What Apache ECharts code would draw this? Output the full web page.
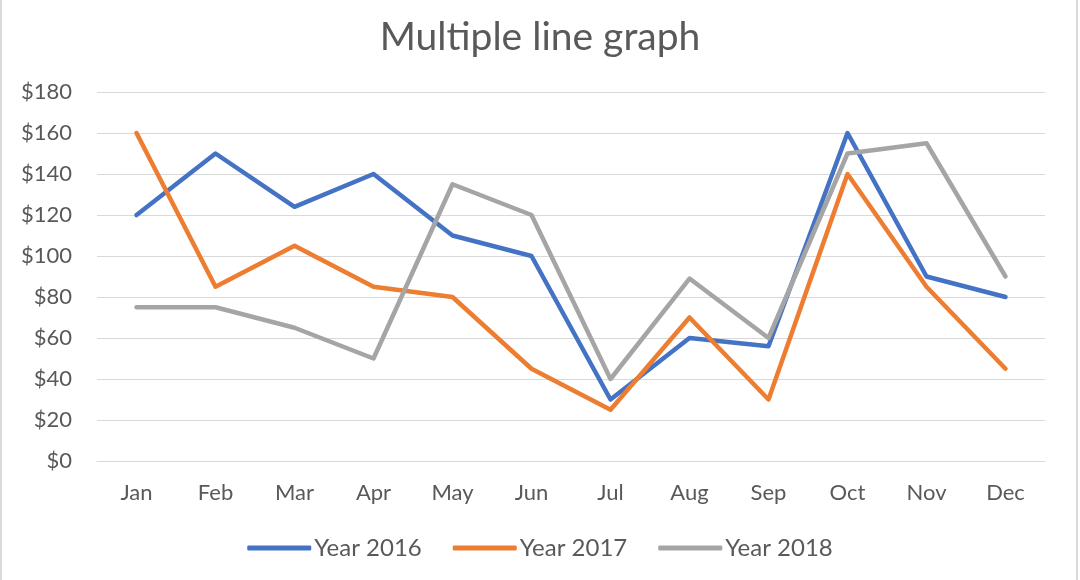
<!DOCTYPE html>
<html>
<head>
<meta charset="utf-8">
<script src="https://cdn.jsdelivr.net/npm/echarts@6/dist/echarts.min.js"></script>
<style>
html,body{margin:0;padding:0;background:#fff;}
#chart{width:1080px;height:580px;}
</style>
</head>
<body>
<div id="chart"></div>
<script>
const months = ['Jan','Feb','Mar','Apr','May','Jun','Jul','Aug','Sep','Oct','Nov','Dec'];
const year2016 = [120,150,124,140,110,100,30,60,56,160,90,80];
const year2017 = [160,85,105,85,80,45,25,70,30,140,85,45];
const year2018 = [75,75,65,50,135,120,40,89,60,150,155,90];
const seriesNames = ['Year 2016','Year 2017','Year 2018'];
const colors = ['#4472C4','#ED7D31','#A5A5A5'];

const font = 'Lato, "Open Sans", sans-serif';
const chart = echarts.init(document.getElementById('chart'), null, {renderer:'canvas'});
const mk = (name, data, c) => ({
  name, type:'line', data, symbol:'none', smooth:false,
  lineStyle:{width:4.5, color:c, cap:'round', join:'round'}, itemStyle:{color:c}
});
chart.setOption({
  animation:false,
  backgroundColor:'#fff',
  title:{text:'Multiple line graph', left:'center', top:13,
    textStyle:{fontFamily:font, fontSize:39, fontWeight:'normal', color:'#595959'}},
  grid:{left:97, right:35, top:92, bottom:119},
  legend:{top:531, left:'center', itemWidth:64, itemHeight:5, itemGap:31,
    icon:'roundRect',
    textStyle:{fontFamily:font, fontSize:24, color:'#595959', padding:[0,0,0,-2]},
    data:seriesNames},
  xAxis:{type:'category', data:months, boundaryGap:true,
    axisLine:{show:true, lineStyle:{color:'#D9D9D9', width:1}},
    axisTick:{show:false},
    axisLabel:{fontFamily:font, fontSize:22, color:'#595959', margin:21}},
  yAxis:{type:'value', min:0, max:180, interval:20,
    axisLine:{show:false}, axisTick:{show:false},
    splitLine:{lineStyle:{color:'#D9D9D9', width:1}},
    axisLabel:{fontFamily:font, fontSize:22, color:'#595959', margin:25,
      formatter:v=>'$'+v}},
  series:[mk(seriesNames[0],year2016,colors[0]), mk(seriesNames[1],year2017,colors[1]), mk(seriesNames[2],year2018,colors[2])],
  graphic:[{type:'rect', shape:{x:1,y:-5,width:1076,height:590}, style:{fill:'none', stroke:'#D9D9D9', lineWidth:2}, silent:true}]
});
</script>
</body>
</html>
